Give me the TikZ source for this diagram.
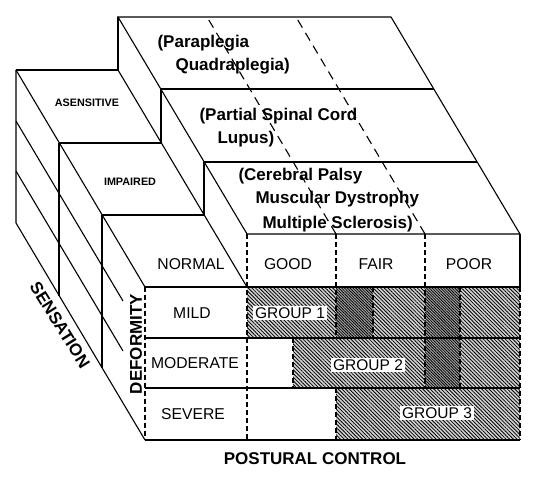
\documentclass[tikz,border=0pt]{standalone}
\usepackage{fontspec}
\setmainfont{Liberation Sans}
\usetikzlibrary{patterns.meta}

\begin{document}
\begin{tikzpicture}[x=1pt,y=-1pt,
  line width=1.1pt,
  dash line/.style={dash pattern=on 5pt off 3pt},
  long dash/.style={dash pattern=on 9pt off 6pt},
  hatched/.style={fill=gray!35,postaction={pattern={Lines[angle=-45,distance=2.6pt,line width=0.8pt]}}},
  dark cell/.style={fill=gray!70,postaction={pattern={Lines[angle=-45,distance=2pt,line width=0.8pt]}}},
  disease/.style={anchor=base west,font=\bfseries\fontsize{17}{17}\selectfont,inner sep=0pt},
  level/.style={font=\bfseries\fontsize{10.8}{11}\selectfont,inner sep=0pt},
  cell/.style={font=\fontsize{15.7}{16}\selectfont,inner sep=0pt},
  group/.style={font=\fontsize{15.5}{16}\selectfont,fill=white,inner sep=2pt},
  axis/.style={font=\bfseries\fontsize{17}{17}\selectfont,inner sep=0pt}]

  \useasboundingbox[fill=white] (0,0) rectangle (535,481);

  % shaded cells of the front face
  \path[hatched] (247,287) rectangle (336,338);
  \path[dark cell] (336,287) rectangle (373,338);
  \path[hatched] (373,287) rectangle (425,338);
  \path[dark cell] (425,287) rectangle (460,388);
  \path[hatched] (460,287) rectangle (520,388);
  \path[hatched] (293,338) rectangle (425,388);
  \path[hatched] (336,388) rectangle (520,440);

  % top face with its three strips
  \draw (247,234) -- (520,234) -- (391,17) -- (118,17) -- cycle;
  \draw (204,162) -- (477,162);
  \draw (161,89) -- (434,89);
  \draw[long dash] (336,234) -- (207,17);
  \draw[long dash] (425,234) -- (296,17);

  % left face of the tall block
  \draw (247,287) -- (118,70);
  \draw (204,162) -- (204,215);
  \draw (161,89) -- (161,143);
  \draw (118,17) -- (118,70);

  % top of the label block
  \draw (145,287) -- (16,70);
  \draw (102,215) -- (204,215);
  \draw (59,143) -- (161,143);
  \draw (16,70) -- (118,70);

  % left face of the label block
  \draw (16,70) -- (16,223) -- (145,440);
  \draw (59,143) -- (59,296);
  \draw (102,215) -- (102,368);
  \draw (16,121) -- (123,301);
  \draw (16,171) -- (123,351);

  % front face
  \draw (145,287) -- (520,287);
  \draw (145,338) -- (520,338);
  \draw (145,388) -- (520,388);
  \draw (145,440) -- (520,440);
  \draw (520,234) -- (520,287);
  \draw[dash line] (145,287) -- (145,440);
  \draw[dash line] (247,234) -- (247,440);
  \draw[dash line] (336,234) -- (336,338);
  \draw[dash line] (336,388) -- (336,440);
  \draw[dash line] (373,287) -- (373,338);
  \draw[dash line] (293,338) -- (293,388);
  \draw[dash line] (425,234) -- (425,388);
  \draw[dash line] (460,287) -- (460,388);
  \draw[dash line] (520,287) -- (520,440);

  % disease groups on the top face
  \node[disease] (para) at (157,48) {(Paraplegia};
  \node[disease] (quad) at (175,71) {Quadraplegia)};
  \node[disease] (partial) at (199,121) {(Partial Spinal Cord};
  \node[disease] (lupus) at (217,144) {Lupus)};
  \node[disease] (cp) at (238,181) {(Cerebral Palsy};
  \node[disease] (md) at (255,204) {Muscular Dystrophy};
  \node[disease] (ms) at (262,228) {Multiple Sclerosis)};

  \node[level] (asens) at (87,103) {ASENSITIVE};
  \node[level] (impaired) at (130,182) {IMPAIRED};

  \node[cell] (normal) at (191,264) {NORMAL};
  \node[cell] (mild) at (192,313) {MILD};
  \node[cell] (moderate) at (195,363) {MODERATE};
  \node[cell] (severe) at (193,414) {SEVERE};
  \node[cell] (good) at (288,264) {GOOD};
  \node[cell] (fair) at (376,264) {FAIR};
  \node[cell] (poor) at (469,264) {POOR};

  \node[group] (g1) at (290,313) {GROUP 1};
  \node[group] (g2) at (368,365) {GROUP 2};
  \node[group] (g3) at (437,413) {GROUP 3};

  \node[axis] (postural) at (315,459) {POSTURAL CONTROL};
  \node[axis,rotate=90] (deformity) at (136,344) {DEFORMITY};
  \node[axis,rotate=-58] (sensation) at (60,325) {SENSATION};
\end{tikzpicture}
\end{document}
